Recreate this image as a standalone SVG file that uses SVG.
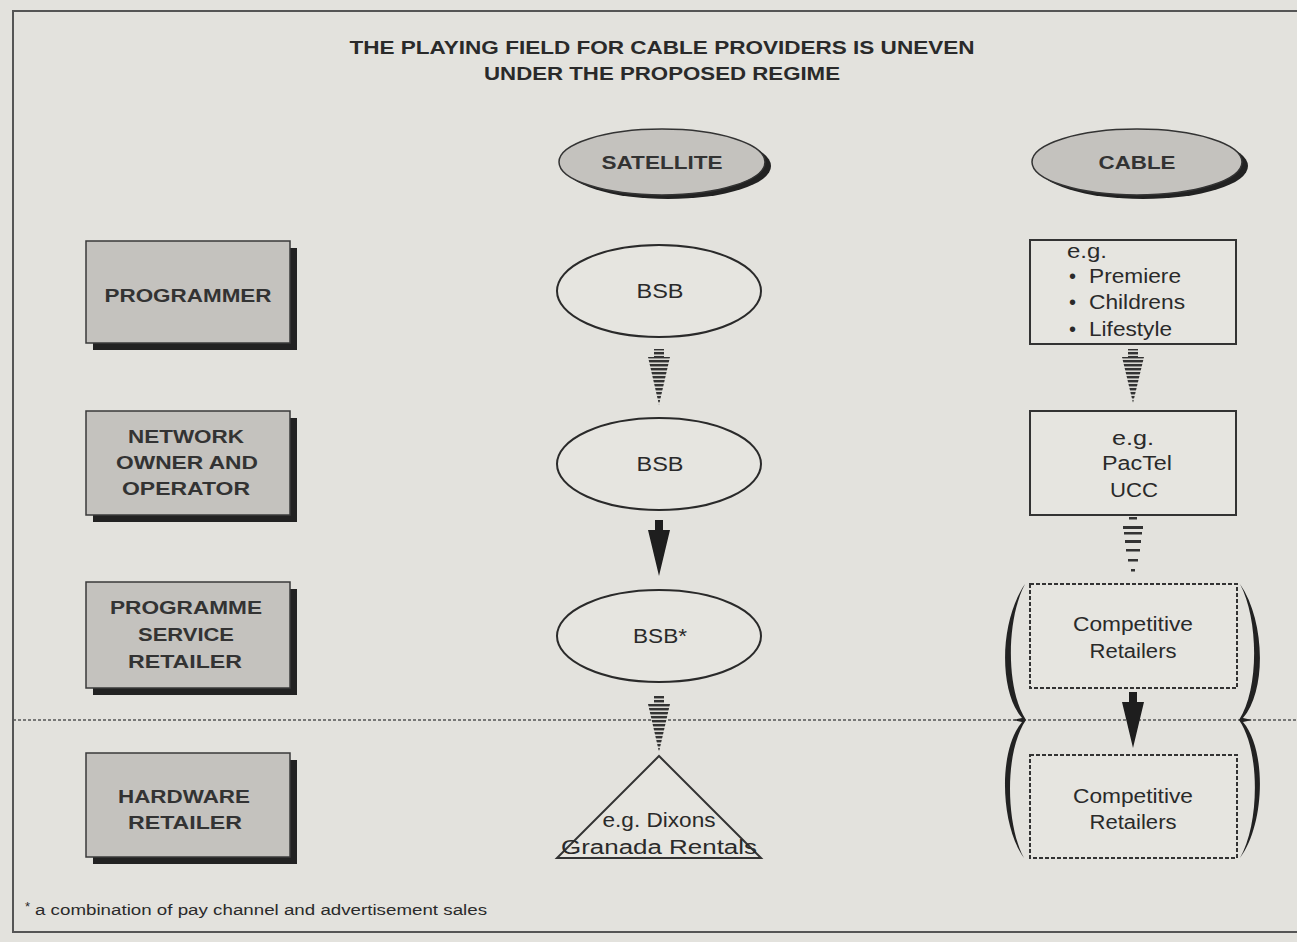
<svg xmlns="http://www.w3.org/2000/svg" width="1297" height="942" viewBox="0 0 1297 942">
<style>
text{font-family:"Liberation Sans",Arial,sans-serif;fill:#2a2a2a}
.t{font-size:19px;font-weight:bold;text-anchor:middle}
.lab{font-size:19px;font-weight:bold;text-anchor:middle;fill:#333}
.n{font-size:20px;text-anchor:middle}
.s{font-size:20px;text-anchor:start}
.box{fill:#c4c2be;stroke:#3a3a3a;stroke-width:1.5}
.sh{fill:#222}
.ell{fill:#e6e5e0;stroke:#2a2a2a;stroke-width:2}
.rb{fill:#e6e5e0;stroke:#333;stroke-width:2}
.db{fill:#e6e5e0;stroke:#333;stroke-width:2;stroke-dasharray:4 2}
</style>
<defs>
<pattern id="stripe" width="6" height="4" patternUnits="userSpaceOnUse">
<rect width="6" height="4" fill="#d8d7d2"/>
<rect width="6" height="2.4" fill="#333"/>
</pattern>
</defs>
<rect width="1297" height="942" fill="#e3e2dd"/>
<rect x="13" y="11" width="1300" height="921" fill="none" stroke="#555" stroke-width="2"/>
<g id="title">
<text class="t" x="662" y="54" textLength="625" lengthAdjust="spacingAndGlyphs">THE PLAYING FIELD FOR CABLE PROVIDERS IS UNEVEN</text>
<text class="t" x="662" y="80" textLength="356" lengthAdjust="spacingAndGlyphs">UNDER THE PROPOSED REGIME</text>
</g>
<line x1="13" y1="720" x2="1297" y2="720" stroke="#555" stroke-width="1.5" stroke-dasharray="3 2"/>
<g id="satellite">
<ellipse cx="668" cy="166" rx="103" ry="33" fill="#222"/>
<ellipse cx="662" cy="162" rx="103" ry="33" fill="#c4c2be" stroke="#333" stroke-width="1.5"/>
<text class="lab" x="662" y="169" textLength="121" lengthAdjust="spacingAndGlyphs">SATELLITE</text>
</g>
<g id="cable">
<ellipse cx="1143" cy="166" rx="105" ry="33" fill="#222"/>
<ellipse cx="1137" cy="162" rx="105" ry="33" fill="#c4c2be" stroke="#333" stroke-width="1.5"/>
<text class="lab" x="1137" y="169" textLength="77" lengthAdjust="spacingAndGlyphs">CABLE</text>
</g>
<g id="programmer">
<rect class="sh" x="93" y="248" width="204" height="102"/>
<rect class="box" x="86" y="241" width="204" height="102"/>
<text class="lab" x="188" y="302" textLength="167" lengthAdjust="spacingAndGlyphs">PROGRAMMER</text>
</g>
<g id="network">
<rect class="sh" x="93" y="418" width="204" height="104"/>
<rect class="box" x="86" y="411" width="204" height="104"/>
<text class="lab" x="186" y="443" textLength="116" lengthAdjust="spacingAndGlyphs">NETWORK</text>
<text class="lab" x="187" y="469" textLength="142" lengthAdjust="spacingAndGlyphs">OWNER AND</text>
<text class="lab" x="186" y="495" textLength="128" lengthAdjust="spacingAndGlyphs">OPERATOR</text>
</g>
<g id="retailer">
<rect class="sh" x="93" y="589" width="204" height="106"/>
<rect class="box" x="86" y="582" width="204" height="106"/>
<text class="lab" x="186" y="614" textLength="152" lengthAdjust="spacingAndGlyphs">PROGRAMME</text>
<text class="lab" x="186" y="641" textLength="96" lengthAdjust="spacingAndGlyphs">SERVICE</text>
<text class="lab" x="185" y="668" textLength="114" lengthAdjust="spacingAndGlyphs">RETAILER</text>
</g>
<g id="hardware">
<rect class="sh" x="93" y="760" width="204" height="104"/>
<rect class="box" x="86" y="753" width="204" height="104"/>
<text class="lab" x="184" y="803" textLength="132" lengthAdjust="spacingAndGlyphs">HARDWARE</text>
<text class="lab" x="185" y="829" textLength="114" lengthAdjust="spacingAndGlyphs">RETAILER</text>
</g>
<g id="bsb1">
<ellipse class="ell" cx="659" cy="291" rx="102" ry="46"/>
<text class="n" x="660" y="298" textLength="47" lengthAdjust="spacingAndGlyphs">BSB</text>
</g>
<g id="bsb2">
<ellipse class="ell" cx="659" cy="464" rx="102" ry="46"/>
<text class="n" x="660" y="471" textLength="47" lengthAdjust="spacingAndGlyphs">BSB</text>
</g>
<g id="bsb3">
<ellipse class="ell" cx="659" cy="636" rx="102" ry="46"/>
<text class="n" x="660" y="643" textLength="54" lengthAdjust="spacingAndGlyphs">BSB*</text>
</g>
<g id="hw-sat">
<polygon points="659,756 557,858 761,858" fill="#e6e5e0" stroke="#333" stroke-width="2"/>
<text class="n" x="659" y="827" textLength="113" lengthAdjust="spacingAndGlyphs">e.g. Dixons</text>
<text class="n" x="659" y="854" textLength="196" lengthAdjust="spacingAndGlyphs">Granada Rentals</text>
</g>
<g id="cable-prog">
<rect class="rb" x="1030" y="240" width="206" height="104"/>
<text class="s" x="1067" y="258" textLength="40" lengthAdjust="spacingAndGlyphs">e.g.</text>
<text class="s" x="1069" y="283">•</text>
<text class="s" x="1089" y="283" textLength="92" lengthAdjust="spacingAndGlyphs">Premiere</text>
<text class="s" x="1069" y="309">•</text>
<text class="s" x="1089" y="309" textLength="96" lengthAdjust="spacingAndGlyphs">Childrens</text>
<text class="s" x="1069" y="336">•</text>
<text class="s" x="1089" y="336" textLength="83" lengthAdjust="spacingAndGlyphs">Lifestyle</text>
</g>
<g id="cable-net">
<rect class="rb" x="1030" y="411" width="206" height="104"/>
<text class="n" x="1133" y="445" textLength="42" lengthAdjust="spacingAndGlyphs">e.g.</text>
<text class="n" x="1137" y="470" textLength="70" lengthAdjust="spacingAndGlyphs">PacTel</text>
<text class="n" x="1134" y="497" textLength="48" lengthAdjust="spacingAndGlyphs">UCC</text>
</g>
<g id="cable-ret1">
<rect class="db" x="1030" y="584" width="207" height="104"/>
<text class="n" x="1133" y="631" textLength="120" lengthAdjust="spacingAndGlyphs">Competitive</text>
<text class="n" x="1133" y="658" textLength="87" lengthAdjust="spacingAndGlyphs">Retailers</text>
</g>
<g id="cable-ret2">
<rect class="db" x="1030" y="755" width="207" height="103"/>
<text class="n" x="1133" y="803" textLength="120" lengthAdjust="spacingAndGlyphs">Competitive</text>
<text class="n" x="1133" y="829" textLength="87" lengthAdjust="spacingAndGlyphs">Retailers</text>
</g>
<g id="braces" fill="#222">
<path d="M1025,584 C1000,620 998,690 1022,718 L1013,720 L1022,722 C998,750 1000,825 1024,858 C1006,825 1004,752 1026,720 C1006,690 1006,620 1025,584 Z"/>
<path d="M1240,584 C1265,620 1267,690 1243,718 L1252,720 L1243,722 C1267,750 1265,825 1240,858 C1259,825 1261,752 1239,720 C1259,690 1259,620 1240,584 Z"/>
</g>
<g id="connectors">
<path d="M654,349 h10 v8 h6 l-11,48 l-11,-48 h6 z" fill="url(#stripe)"/>
<path d="M655,520 h8 v10 h7 l-11,46 l-11,-46 h7 z" fill="#1e1e1e"/>
<path d="M654,696 h10 v8 h6 l-11,48 l-11,-48 h6 z" fill="url(#stripe)"/>
<path d="M1128,349 h10 v8 h6 l-11,46 l-11,-46 h6 z" fill="url(#stripe)"/>
<g fill="#333">
<rect x="1129" y="517" width="8" height="2.5"/>
<rect x="1123" y="526" width="20" height="3"/>
<rect x="1124" y="532" width="18" height="2.5"/>
<rect x="1125" y="540" width="16" height="3"/>
<rect x="1126" y="549" width="14" height="2.5"/>
<rect x="1128" y="559" width="10" height="2.5"/>
<rect x="1131" y="569" width="4" height="2.5"/>
</g>
<path d="M1129,692 h8 v10 h7 l-11,46 l-11,-46 h7 z" fill="#1e1e1e"/>
</g>
<g id="footnote">
<text x="25" y="911" style="font-size:13px">*</text>
<text x="35" y="915" style="font-size:14px" textLength="452" lengthAdjust="spacingAndGlyphs">a combination of pay channel and advertisement sales</text>
</g>
</svg>
